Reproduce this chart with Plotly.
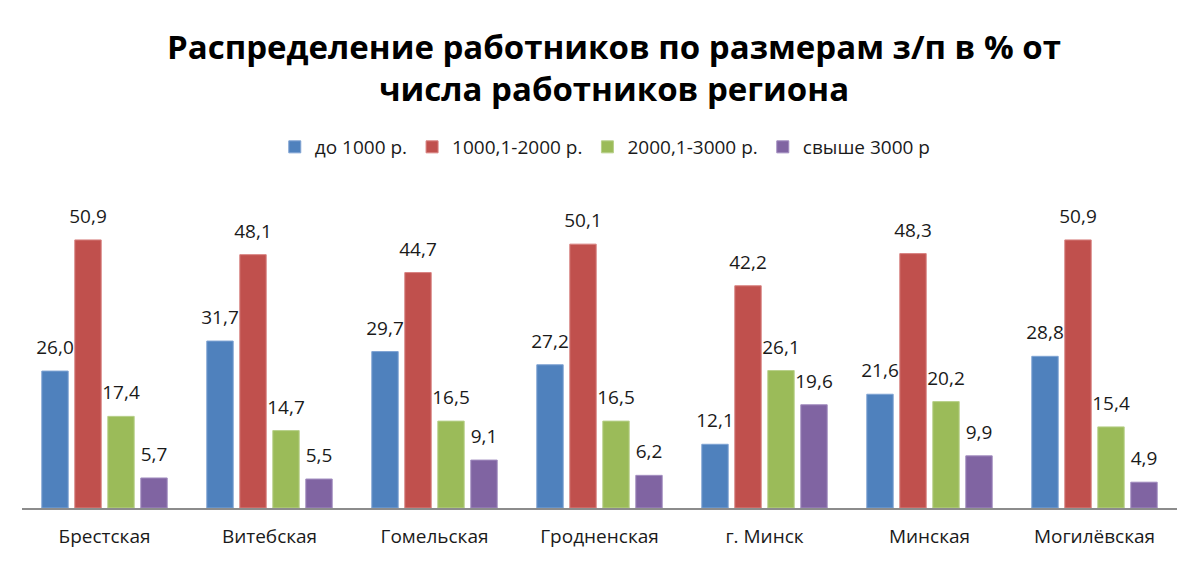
import plotly.graph_objects as go

categories = ["Брестская", "Витебская", "Гомельская", "Гродненская", "г. Минск", "Минская", "Могилёвская"]
series_names = ["до 1000 р.", "1000,1-2000 р.", "2000,1-3000 р.", "свыше 3000 р"]
s1 = [26.0, 31.7, 29.7, 27.2, 12.1, 21.6, 28.8]
s2 = [50.9, 48.1, 44.7, 50.1, 42.2, 48.3, 50.9]
s3 = [17.4, 14.7, 16.5, 16.5, 26.1, 20.2, 15.4]
s4 = [5.7, 5.5, 9.1, 6.2, 19.6, 9.9, 4.9]
colors = ["#4F81BD", "#C0504D", "#9BBB59", "#8064A2"]
edge = ["#7FA3D3", "#D88280", "#B8D08A", "#A18CBF"]

FONT = "Open Sans"
fig = go.Figure()
for name, vals, c, e in zip(series_names, [s1, s2, s3, s4], colors, edge):
    fig.add_trace(go.Bar(
        x=categories, y=vals, name=name,
        marker=dict(color=c, line=dict(color=e, width=1)),
    ))
for name, vals in zip(series_names, [s1, s2, s3, s4]):
    fig.add_trace(go.Scatter(
        x=categories, y=vals, mode="markers+text", showlegend=False,
        marker=dict(size=18, opacity=0), hoverinfo="skip",
        texttemplate="%{y:.1f}", textposition="top center",
        textfont=dict(size=19, color="#1a1a1a", family=FONT),
        cliponaxis=False,
    ))

# the page body adds an 8px offset; margins compensate for it
fig.update_layout(
    width=1200, height=561,
    paper_bgcolor="white", plot_bgcolor="white",
    separators=", ",
    barmode="group", bargap=0.2, bargroupgap=0.2,
    scattermode="group", scattergap=0.2,
    margin=dict(l=14, r=31, t=184, b=61, autoexpand=False),
    title=dict(
        text="<b>Распределение работников по размерам з/п в % от<br>числа работников региона</b>",
        x=0.505, xanchor="center", y=1 - 50.5 / 561, yanchor="middle",
        font=dict(size=33, family=FONT, color="#000000"),
    ),
    legend=dict(
        orientation="h", x=0.505, xanchor="center", y=1 + (184 - 139) / 316, yanchor="middle",
        font=dict(size=19, family=FONT, color="#1a1a1a"),
        itemwidth=30, traceorder="normal",
    ),
    xaxis=dict(
        showline=True, linecolor="#8c8c8c", linewidth=2,
        ticks="", tickfont=dict(size=19, family=FONT, color="#1a1a1a"),
        ticklabelstandoff=10,
        showgrid=False, automargin=False,
    ),
    yaxis=dict(range=[0, 60], visible=False, showgrid=False, automargin=False),
)

fig.write_html("out.html")
